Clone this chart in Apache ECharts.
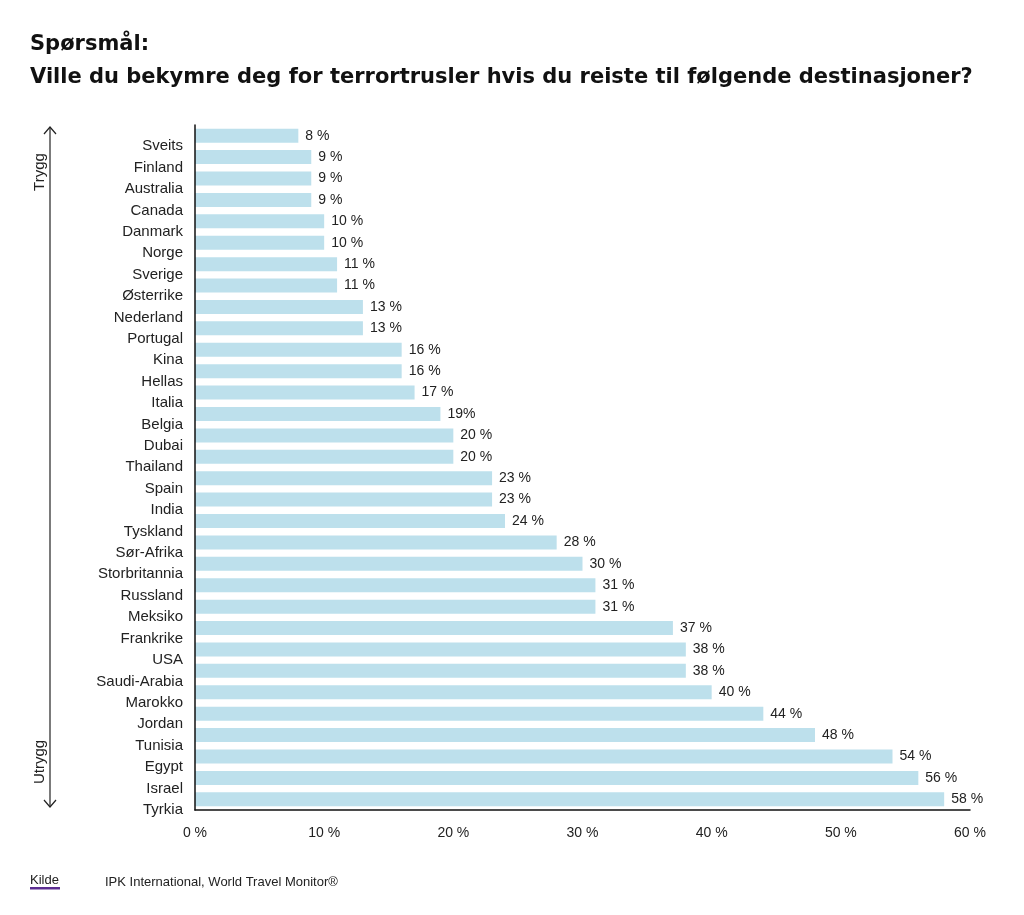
<!DOCTYPE html>
<html>
<head>
<meta charset="utf-8">
<script src="https://cdn.jsdelivr.net/npm/echarts@6/dist/echarts.min.js"></script>
<style>
html,body{margin:0;padding:0;background:#fff;}
#chart{width:1024px;height:915px;}
</style>
</head>
<body>
<div id="chart"></div>
<script>
const categories = ["Sveits","Finland","Australia","Canada","Danmark","Norge","Sverige","Østerrike","Nederland","Portugal","Kina","Hellas","Italia","Belgia","Dubai","Thailand","Spain","India","Tyskland","Sør-Afrika","Storbritannia","Russland","Meksiko","Frankrike","USA","Saudi-Arabia","Marokko","Jordan","Tunisia","Egypt","Israel","Tyrkia"];
const values = [8,9,9,9,10,10,11,11,13,13,16,16,17,19,20,20,23,23,24,28,30,31,31,37,38,38,40,44,48,54,56,58];
const valueLabels = ["8 %","9 %","9 %","9 %","10 %","10 %","11 %","11 %","13 %","13 %","16 %","16 %","17 %","19%","20 %","20 %","23 %","23 %","24 %","28 %","30 %","31 %","31 %","37 %","38 %","38 %","40 %","44 %","48 %","54 %","56 %","58 %"];
const xTicks = [0,10,20,30,40,50,60];
const titleText = "Spørsmål:\nVille du bekymre deg for terrortrusler hvis du reiste til følgende destinasjoner?";
const sourceLabel = "Kilde";
const sourceText = "IPK International, World Travel Monitor®";
const topLabel = "Trygg";
const bottomLabel = "Utrygg";

const font = "'Liberation Sans', Arial, sans-serif";
const chart = echarts.init(document.getElementById('chart'));
chart.setOption({
  animation: false,
  backgroundColor: '#fff',
  textStyle: {fontFamily: font},
  title: {
    text: titleText,
    left: 30, top: 28, padding: 0,
    textStyle: {fontSize: 21, fontWeight: 'bold', color: '#111', lineHeight: 33, fontFamily: "'DejaVu Sans', sans-serif"}
  },
  grid: {left: 195, right: 54, top: 125, bottom: 105, containLabel: false},
  xAxis: {
    type: 'value', min: 0, max: 60, interval: 10,
    axisLine: {show: true, lineStyle: {color: '#111', width: 1.5}},
    axisTick: {show: false},
    splitLine: {show: false},
    axisLabel: {
      margin: 16, fontSize: 14, color: '#222', fontFamily: font,
      formatter: v => xTicks.indexOf(v) >= 0 ? v + ' %' : ''
    }
  },
  yAxis: {
    type: 'category', data: categories, inverse: true, z: 5,
    axisLine: {show: true, lineStyle: {color: '#111', width: 1.5}},
    axisTick: {show: false},
    axisLabel: {
      margin: 12, fontSize: 15, color: '#222', fontFamily: font,
      verticalAlign: 'top', lineHeight: 21
    }
  },
  series: [{
    type: 'bar',
    data: values,
    barWidth: 14,
    itemStyle: {color: '#bde0ec'},
    label: {
      show: true, position: 'right', distance: 7,
      fontSize: 14, color: '#222', fontFamily: font,
      formatter: p => valueLabels[p.dataIndex]
    }
  }],
  graphic: [
    {type: 'line', shape: {x1: 50, y1: 127, x2: 50, y2: 807}, style: {stroke: '#222', lineWidth: 1.2}},
    {type: 'polyline', shape: {points: [[44, 134], [50, 127], [56, 134]]}, style: {stroke: '#222', lineWidth: 1.2, fill: null}},
    {type: 'polyline', shape: {points: [[44, 800], [50, 807], [56, 800]]}, style: {stroke: '#222', lineWidth: 1.2, fill: null}},
    {type: 'text', x: 40, y: 172, rotation: Math.PI / 2,
      style: {text: topLabel, fontSize: 15, fill: '#222', align: 'center', verticalAlign: 'middle', fontFamily: font}},
    {type: 'text', x: 40, y: 762, rotation: Math.PI / 2,
      style: {text: bottomLabel, fontSize: 15, fill: '#222', align: 'center', verticalAlign: 'middle', fontFamily: font}},
    {type: 'text', x: 30, y: 880,
      style: {text: sourceLabel, fontSize: 13, fill: '#222', align: 'left', verticalAlign: 'middle', fontFamily: font}},
    {type: 'rect', shape: {x: 30, y: 887, width: 30, height: 2.5}, style: {fill: '#5b2d91'}},
    {type: 'text', x: 105, y: 882,
      style: {text: sourceText, fontSize: 13, fill: '#222', align: 'left', verticalAlign: 'middle', fontFamily: font}}
  ]
});
</script>
</body>
</html>
